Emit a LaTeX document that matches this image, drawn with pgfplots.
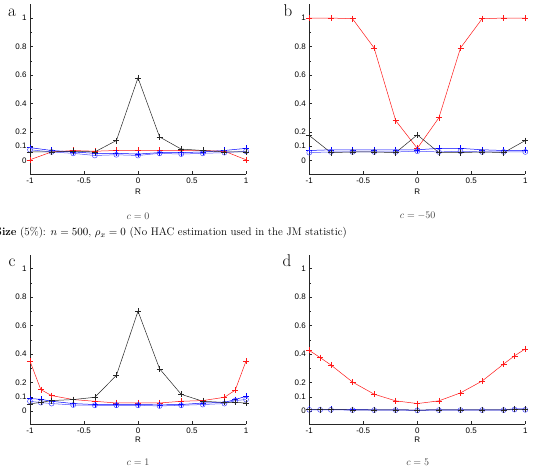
\documentclass[border=0pt]{standalone}
\usepackage{pgfplots}
\pgfplotsset{compat=1.18}
\usepackage{fontspec}
\newfontfamily\arial{Liberation Sans}
\pgfplotsset{
  panel/.style={
    scale only axis, width=216pt, height=169.5pt,
    xmin=-1, xmax=1, ymin=-0.095, ymax=1.095,
    axis lines*=left, tick align=inside,
    xtick={-1,-0.5,0,0.5,1},
    ytick={0,0.1,0.2,0.4,0.6,0.8,1},
    minor ytick={0.3,0.5,0.7,0.9},
    major tick length=3pt, minor tick length=2pt,
    tick label style={font=\arial\fontsize{8}{9}\selectfont},
    /pgf/number format/assume math mode=true,
    xlabel={R}, xlabel style={font=\arial\fontsize{8}{9}\selectfont},
    axis line style={black!85}, tick style={black!85},
    clip=false,
  },
  sred/.style={color=red!90!white, mark=+, mark size=3pt, line width=0.5pt},
  sblk/.style={color=black!85, mark=+, mark size=3pt, line width=0.5pt},
  sbp/.style={color=blue, mark=+, mark size=3pt, line width=0.5pt},
  sbo/.style={color=blue!70!white, mark=o, mark size=2.5pt, line width=0.5pt},
}
\begin{document}
\begin{tikzpicture}
\useasboundingbox (0pt,0pt) rectangle (533pt,466pt);
% ---------- panel a ----------
\begin{axis}[panel, at={(30pt,292pt)}, anchor=south west, xlabel style={yshift=1pt}]
\addplot[sred] coordinates {(-1,0.005)(-0.8,0.06)(-0.6,0.07)(-0.4,0.065)(-0.2,0.07)(0,0.07)(0.2,0.07)(0.4,0.07)(0.6,0.07)(0.8,0.065)(1,0.005)};
\addplot[sbp] coordinates {(-1,0.09)(-0.8,0.07)(-0.6,0.06)(-0.4,0.05)(-0.2,0.05)(0,0.045)(0.2,0.055)(0.4,0.055)(0.6,0.06)(0.8,0.07)(1,0.085)};
\addplot[sbo] coordinates {(-1,0.075)(-0.8,0.06)(-0.6,0.05)(-0.4,0.035)(-0.2,0.04)(0,0.035)(0.2,0.05)(0.4,0.045)(0.6,0.05)(0.8,0.055)(1,0.065)};
\addplot[sblk] coordinates {(-1,0.06)(-0.8,0.06)(-0.6,0.065)(-0.4,0.06)(-0.2,0.14)(0,0.58)(0.2,0.165)(0.4,0.08)(0.6,0.07)(0.8,0.06)(1,0.06)};
\end{axis}
% ---------- panel b ----------
\begin{axis}[panel, at={(309.3pt,292pt)}, anchor=south west, xlabel style={yshift=1pt}]
\addplot[sred] coordinates {(-1,1.0)(-0.8,1.0)(-0.6,0.995)(-0.4,0.79)(-0.2,0.28)(0,0.085)(0.2,0.30)(0.4,0.79)(0.6,0.995)(0.8,1.0)(1,1.0)};
\addplot[sbp] coordinates {(-1,0.07)(-0.8,0.075)(-0.6,0.075)(-0.4,0.075)(-0.2,0.075)(0,0.075)(0.2,0.085)(0.4,0.085)(0.6,0.075)(0.8,0.07)(1,0.07)};
\addplot[sbo] coordinates {(-1,0.055)(-0.8,0.06)(-0.6,0.06)(-0.4,0.06)(-0.2,0.06)(0,0.065)(0.2,0.06)(0.4,0.065)(0.6,0.06)(0.8,0.06)(1,0.06)};
\addplot[sblk] coordinates {(-1,0.175)(-0.8,0.055)(-0.6,0.06)(-0.4,0.06)(-0.2,0.055)(0,0.18)(0.2,0.055)(0.4,0.055)(0.6,0.06)(0.8,0.055)(1,0.14)};
\end{axis}
% ---------- panel c ----------
\begin{axis}[panel, at={(30pt,41.5pt)}, anchor=south west, xlabel style={yshift=4pt}]
\addplot[sred] coordinates {(-1,0.35)(-0.9,0.15)(-0.8,0.108)(-0.6,0.08)(-0.4,0.068)(-0.2,0.056)(0,0.056)(0.2,0.056)(0.4,0.068)(0.6,0.073)(0.8,0.096)(0.9,0.146)(1,0.35)};
\addplot[sbp] coordinates {(-1,0.087)(-0.9,0.082)(-0.8,0.068)(-0.6,0.052)(-0.4,0.045)(-0.2,0.045)(0,0.045)(0.2,0.043)(0.4,0.045)(0.6,0.056)(0.8,0.06)(0.9,0.08)(1,0.103)};
\addplot[sbo] coordinates {(-1,0.068)(-0.9,0.059)(-0.8,0.052)(-0.6,0.042)(-0.4,0.04)(-0.2,0.04)(0,0.04)(0.2,0.035)(0.4,0.04)(0.6,0.045)(0.8,0.052)(0.9,0.073)(1,0.08)};
\addplot[sblk] coordinates {(-1,0.05)(-0.9,0.06)(-0.8,0.073)(-0.6,0.08)(-0.4,0.096)(-0.2,0.25)(0,0.70)(0.2,0.296)(0.4,0.117)(0.6,0.068)(0.8,0.06)(0.9,0.06)(1,0.056)};
\end{axis}
% ---------- panel d ----------
\begin{axis}[panel, at={(309.3pt,41.5pt)}, anchor=south west, xlabel style={yshift=4pt}]
\addplot[sred] coordinates {(-1,0.425)(-0.9,0.375)(-0.8,0.323)(-0.6,0.203)(-0.4,0.118)(-0.2,0.071)(0,0.052)(0.2,0.071)(0.4,0.127)(0.6,0.21)(0.8,0.33)(0.9,0.387)(1,0.436)};
\addplot[sbp] coordinates {(-1,0.012)(-0.9,0.01)(-0.8,0.012)(-0.6,0.01)(-0.4,0.008)(-0.2,0.008)(0,0.006)(0.2,0.008)(0.4,0.008)(0.6,0.008)(0.8,0.008)(0.9,0.015)(1,0.015)};
\addplot[sbo] coordinates {(-1,0.008)(-0.9,0.008)(-0.8,0.008)(-0.6,0.006)(-0.4,0.006)(-0.2,0.006)(0,0.004)(0.2,0.006)(0.4,0.006)(0.6,0.006)(0.8,0.006)(0.9,0.01)(1,0.008)};
\addplot[sblk] coordinates {(-1,0.01)(-0.9,0.01)(-0.8,0.01)(-0.6,0.008)(-0.4,0.008)(-0.2,0.008)(0,0.006)(0.2,0.008)(0.4,0.008)(0.6,0.008)(0.8,0.008)(0.9,0.012)(1,0.012)};
\end{axis}
% ---------- labels ----------
\node[font=\fontsize{17}{17}\selectfont, anchor=base] at (12pt,449pt) {a};
\node[font=\fontsize{17}{17}\selectfont, anchor=base] at (288pt,449pt) {b};
\node[font=\fontsize{17}{17}\selectfont, anchor=base] at (12pt,199pt) {c};
\node[font=\fontsize{17}{17}\selectfont, anchor=base] at (287pt,199pt) {d};
\node[font=\fontsize{10}{12}\selectfont, text=black!75] at (138pt,250pt) {$c=0$};
\node[font=\fontsize{10}{12}\selectfont, text=black!75] at (417.7pt,250pt) {$c=-50$};
\node[font=\fontsize{10}{12}\selectfont, text=black!75] at (138pt,4pt) {$c=1$};
\node[font=\fontsize{10}{12}\selectfont, text=black!75] at (417.7pt,4pt) {$c=5$};
\node[font=\fontsize{11}{13}\selectfont, anchor=base east, inner sep=0pt] at (347pt,230pt) {\textbf{Size} (5\%): $n=500$, $\rho_x=0$ (No HAC estimation used in the JM statistic)};
\end{tikzpicture}
\end{document}
